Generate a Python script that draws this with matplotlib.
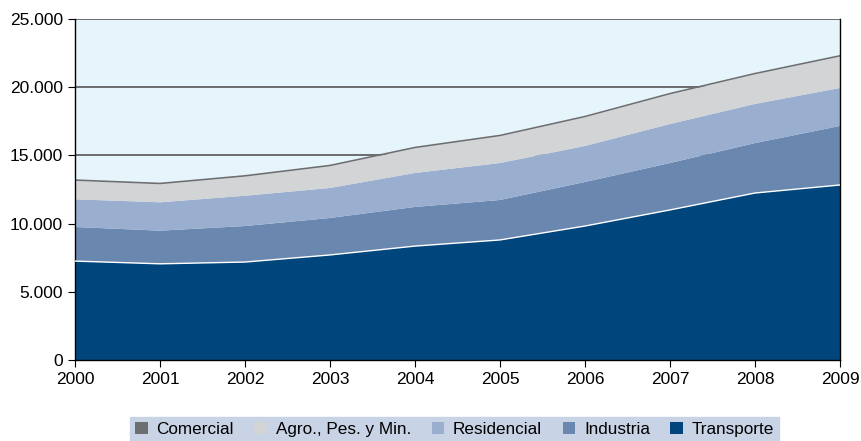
import matplotlib.pyplot as plt
from matplotlib.patches import Patch
from matplotlib.ticker import FuncFormatter

plt.rcParams['font.family'] = ['Liberation Sans', 'DejaVu Sans']

years = [2000, 2001, 2002, 2003, 2004, 2005, 2006, 2007, 2008, 2009]
transporte = [7250, 7050, 7180, 7700, 8350, 8800, 9820, 11000, 12240, 12830]
industria = [2500, 2430, 2640, 2710, 2870, 2930, 3230, 3440, 3660, 4330]
residencial = [2030, 2080, 2220, 2200, 2490, 2710, 2640, 2860, 2870, 2780]
agro = [1350, 1320, 1400, 1590, 1810, 1960, 2100, 2170, 2170, 2300]
comercial = [120, 120, 120, 120, 120, 120, 120, 120, 120, 120]

labels = ["Transporte", "Industria", "Residencial", "Agro., Pes. y Min.", "Comercial"]
colors = ["#00457c", "#6a87b0", "#9aafd0", "#d3d4d6", "#6d6e70"]

fig = plt.figure(figsize=(8.61, 4.41), dpi=100)
ax = fig.add_axes([0.0871, 0.1837, 0.8885, 0.7733])
ax.set_facecolor("#e6f4fc")

for y in [15000, 20000, 25000]:
    ax.axhline(y, color="#555555", lw=1.2, zorder=0)

polys = ax.stackplot(years, transporte, industria, residencial, agro, comercial,
                     colors=colors, zorder=2, lw=0)
# thin white edge on top of Transporte
ax.plot(years, transporte, color="white", lw=1, zorder=3)

ax.set_xlim(2000, 2009)
ax.set_ylim(0, 25000)
ax.set_xticks(years)
ax.set_yticks([0, 5000, 10000, 15000, 20000, 25000])
ax.yaxis.set_major_formatter(FuncFormatter(lambda v, p: f"{int(v):,}".replace(",", ".")))
ax.tick_params(labelsize=12.5, color="black", length=5, direction="out")
for s in ["left", "bottom", "right"]:
    ax.spines[s].set_color("black")
    ax.spines[s].set_linewidth(1)
ax.spines["top"].set_visible(False)

handles = [Patch(facecolor=colors[i], edgecolor="none", label=labels[i]) for i in [4, 3, 2, 1, 0]]
leg = fig.legend(handles=handles, loc="lower center", bbox_to_anchor=(0.528, -0.022), ncol=5,
                 frameon=True, fontsize=12.3, handlelength=0.75, handleheight=0.75,
                 handletextpad=0.5, columnspacing=1.2, borderpad=0.3, fancybox=False)
leg.get_frame().set_facecolor("#c9d3e6")
leg.get_frame().set_edgecolor("#c9d3e6")
leg.get_frame().set_alpha(1)

fig.savefig("out.png", dpi=100)
